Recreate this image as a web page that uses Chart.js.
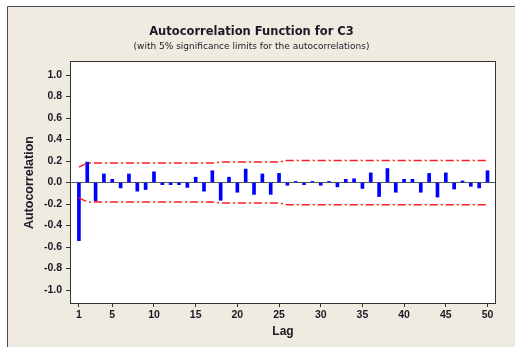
<!DOCTYPE html>
<html>
<head>
<meta charset="utf-8">
<script src="https://cdn.jsdelivr.net/npm/chart.js@4/dist/chart.umd.min.js"></script>
<style>
  html, body { margin: 0; padding: 0; background: #ffffff; }
  #wrap { width: 515px; height: 347px; }
</style>
</head>
<body>
<div id="wrap"><canvas id="acf" width="515" height="347"></canvas></div>
<script>
// Lags (x categories)
const lags = [
  1, 2, 3, 4, 5, 6, 7, 8, 9, 10,
  11, 12, 13, 14, 15, 16, 17, 18, 19, 20,
  21, 22, 23, 24, 25, 26, 27, 28, 29, 30,
  31, 32, 33, 34, 35, 36, 37, 38, 39, 40,
  41, 42, 43, 44, 45, 46, 47, 48, 49, 50
];

// Autocorrelation at each lag
const acf = [
  -0.54, 0.19, -0.17, 0.08, 0.03, -0.05, 0.08, -0.08, -0.065, 0.10,
  -0.02, -0.02, -0.02, -0.045, 0.05, -0.08, 0.11, -0.165, 0.05, -0.09,
  0.125, -0.11, 0.08, -0.11, 0.085, -0.025, 0.01, -0.02, 0.01, -0.025,
  0.01, -0.04, 0.03, 0.035, -0.055, 0.09, -0.13, 0.13, -0.09, 0.03,
  0.03, -0.09, 0.085, -0.135, 0.09, -0.06, 0.015, -0.035, -0.05, 0.11
];

// 5% significance limit (±) at each lag
const sigLimit = [
  0.143, 0.181, 0.181, 0.181, 0.181, 0.181, 0.181, 0.181, 0.181, 0.181,
  0.181, 0.181, 0.181, 0.181, 0.181, 0.181, 0.181, 0.190, 0.190, 0.190,
  0.190, 0.190, 0.190, 0.190, 0.190, 0.206, 0.206, 0.206, 0.206, 0.206,
  0.206, 0.206, 0.206, 0.206, 0.206, 0.206, 0.206, 0.206, 0.206, 0.206,
  0.206, 0.206, 0.206, 0.206, 0.206, 0.206, 0.206, 0.206, 0.206, 0.206
];

// Tick labels
const xTicks = [1, 5, 10, 15, 20, 25, 30, 35, 40, 45, 50];
const yTicks = [-1.0, -0.8, -0.6, -0.4, -0.2, 0.0, 0.2, 0.4, 0.6, 0.8, 1.0];

const titleText = 'Autocorrelation Function for C3';
const subtitleText = '(with 5% significance limits for the autocorrelations)';

const labelFont = 'Liberation Sans';
const inkColor = '#1a1a26';

// Window background, frame and white plotting area
const framePlugin = {
  id: 'frame',
  beforeDraw(chart) {
    const { ctx, chartArea: a, width, height } = chart;
    ctx.save();
    ctx.fillStyle = '#ffffff';
    ctx.fillRect(0, 0, width, height);
    ctx.fillStyle = '#efebe1';
    ctx.fillRect(7, 6, width - 7, height - 6);
    ctx.strokeStyle = '#4a4a4a';
    ctx.lineWidth = 1;
    ctx.beginPath();
    ctx.moveTo(7.5, height);
    ctx.lineTo(7.5, 6.5);
    ctx.lineTo(width, 6.5);
    ctx.stroke();
    ctx.fillStyle = '#ffffff';
    ctx.fillRect(a.left, a.top, a.right - a.left, a.bottom - a.top);
    ctx.restore();
  },
  afterDraw(chart) {
    const { ctx, chartArea: a } = chart;
    ctx.save();
    ctx.strokeStyle = '#333333';
    ctx.lineWidth = 1;
    ctx.strokeRect(Math.round(a.left) - 0.5, Math.round(a.top) - 0.5,
                   Math.round(a.right - a.left) + 1, Math.round(a.bottom - a.top) + 1);
    ctx.restore();
  }
};

const limitStyle = {
  type: 'line',
  borderColor: '#ff1a1a',
  borderWidth: 1.5,
  borderDash: [8, 3, 2, 3],
  pointRadius: 0,
  pointHoverRadius: 0,
  fill: false,
  tension: 0,
  order: 0
};

new Chart(document.getElementById('acf'), {
  data: {
    datasets: [
      {
        type: 'bar',
        label: 'ACF',
        data: lags.map((l, i) => ({ x: l, y: acf[i] })),
        backgroundColor: '#0000ff',
        borderWidth: 0,
        barThickness: 3,
        grouped: false,
        order: 1
      },
      Object.assign({ label: 'Upper limit', data: lags.map((l, i) => ({ x: l, y: sigLimit[i] })) }, limitStyle),
      Object.assign({ label: 'Lower limit', data: lags.map((l, i) => ({ x: l, y: -sigLimit[i] })) }, limitStyle)
    ]
  },
  options: {
    responsive: false,
    devicePixelRatio: 1,
    animation: false,
    layout: { padding: { top: 6, left: 8, right: 20, bottom: 0 } },
    plugins: {
      legend: { display: false },
      tooltip: { enabled: false },
      title: {
        display: true,
        text: titleText,
        color: inkColor,
        font: { family: 'DejaVu Sans', size: 11.5, weight: 'bold', lineHeight: 1.2 },
        padding: { top: 19, bottom: 0 }
      },
      subtitle: {
        display: true,
        text: subtitleText,
        color: inkColor,
        font: { family: 'DejaVu Sans', size: 9, weight: 'normal', lineHeight: 1.2 },
        padding: { top: 2, bottom: 10.5 }
      }
    },
    scales: {
      x: {
        type: 'linear',
        offset: false,
        min: 0.05,
        max: 50.9,
        afterFit(scale) { scale.height = 44; },
        afterBuildTicks(scale) { scale.ticks = xTicks.map(v => ({ value: v })); },
        border: { display: false },
        grid: {
          offset: false,
          drawOnChartArea: false,
          drawTicks: true,
          tickLength: 4,
          tickColor: '#333333',
          tickWidth: 1
        },
        ticks: {
          autoSkip: false,
          maxRotation: 0,
          padding: 2,
          color: inkColor,
          font: { family: labelFont, size: 10.5, weight: 'bold' },
          callback: v => String(v)
        },
        title: {
          display: true,
          text: 'Lag',
          color: inkColor,
          font: { family: labelFont, size: 12, weight: 'bold', lineHeight: 1.2 },
          padding: { top: 0, bottom: 8.5 }
        }
      },
      y: {
        type: 'linear',
        min: -1.12,
        max: 1.12,
        afterFit(scale) { scale.width = 63; },
        afterBuildTicks(scale) { scale.ticks = yTicks.map(v => ({ value: v })); },
        border: { display: false },
        grid: {
          drawOnChartArea: true,
          drawTicks: true,
          tickLength: 5,
          tickColor: '#333333',
          color: ctx => (ctx.tick && Math.abs(ctx.tick.value) < 1e-9 ? '#5a5a5a' : 'rgba(0,0,0,0)'),
          lineWidth: 1
        },
        ticks: {
          padding: 4,
          color: inkColor,
          font: { family: labelFont, size: 10.5, weight: 'bold' },
          callback: v => (Math.abs(v) < 1e-9 ? '0.0' : Number(v).toFixed(1))
        },
        title: {
          display: true,
          text: 'Autocorrelation',
          color: inkColor,
          font: { family: labelFont, size: 12.5, weight: 'bold', lineHeight: 1.2 },
          padding: { top: 14, bottom: 0 }
        }
      }
    }
  },
  plugins: [framePlugin]
});
</script>
</body>
</html>
